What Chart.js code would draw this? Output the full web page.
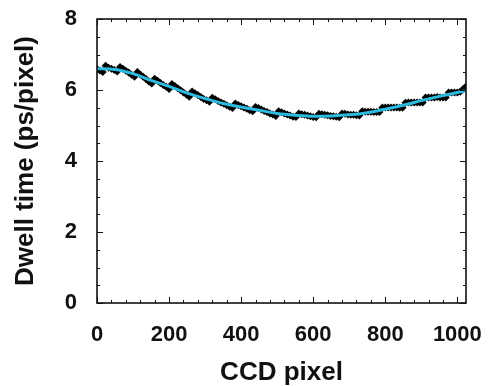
<!DOCTYPE html>
<html>
<head>
<meta charset="utf-8">
<script src="https://cdn.jsdelivr.net/npm/chart.js@4.4.0/dist/chart.umd.min.js"></script>
<style>
  html, body { margin: 0; padding: 0; background: #fff; }
  canvas { display: block; }
</style>
</head>
<body>
<canvas id="dwell" width="489" height="386"></canvas>
<script>
// measured points (CCD pixel, dwell time ps/pixel)
const pixelX = [
  0, 8, 16, 24, 32, 40, 48, 56,
  64, 72, 80, 88, 96, 104, 112, 120,
  128, 136, 144, 152, 160, 168, 176, 184,
  192, 200, 208, 216, 224, 232, 240, 248,
  256, 264, 272, 280, 288, 296, 304, 312,
  320, 328, 336, 344, 352, 360, 368, 376,
  384, 392, 400, 408, 416, 424, 432, 440,
  448, 456, 464, 472, 480, 488, 496, 504,
  512, 520, 528, 536, 544, 552, 560, 568,
  576, 584, 592, 600, 608, 616, 624, 632,
  640, 648, 656, 664, 672, 680, 688, 696,
  704, 712, 720, 728, 736, 744, 752, 760,
  768, 776, 784, 792, 800, 808, 816, 824,
  832, 840, 848, 856, 864, 872, 880, 888,
  896, 904, 912, 920, 928, 936, 944, 952,
  960, 968, 976, 984, 992, 1000, 1008, 1016,
  1024
]
const dwellTime = [
  6.59, 6.55, 6.51, 6.68, 6.63, 6.60, 6.56, 6.52,
  6.65, 6.60, 6.54, 6.49, 6.43, 6.37, 6.51, 6.44,
  6.37, 6.31, 6.24, 6.18, 6.32, 6.26, 6.20, 6.14,
  6.09, 6.03, 6.17, 6.11, 6.05, 5.99, 5.93, 5.87,
  5.81, 5.96, 5.91, 5.86, 5.80, 5.75, 5.71, 5.67,
  5.78, 5.74, 5.69, 5.65, 5.61, 5.57, 5.53, 5.49,
  5.62, 5.58, 5.54, 5.51, 5.47, 5.43, 5.40, 5.52,
  5.49, 5.45, 5.41, 5.38, 5.34, 5.31, 5.27, 5.40,
  5.37, 5.34, 5.31, 5.28, 5.25, 5.24, 5.34, 5.32,
  5.30, 5.28, 5.26, 5.24, 5.23, 5.33, 5.32, 5.30,
  5.29, 5.27, 5.26, 5.25, 5.23, 5.34, 5.33, 5.31,
  5.30, 5.30, 5.29, 5.28, 5.40, 5.39, 5.39, 5.39,
  5.38, 5.38, 5.38, 5.51, 5.51, 5.51, 5.51, 5.51,
  5.51, 5.50, 5.50, 5.64, 5.65, 5.65, 5.65, 5.65,
  5.65, 5.65, 5.79, 5.79, 5.79, 5.79, 5.80, 5.79,
  5.79, 5.79, 5.93, 5.93, 5.93, 5.93, 5.95, 6.03,
  6.10
]

// smooth fit (cyan)
const fitX = [0, 50, 100, 150, 200, 250, 300, 350, 400, 450, 500, 550, 600, 650, 700, 750, 800, 850, 900, 950, 1000, 1024]
const fitY = [6.60, 6.58, 6.46, 6.27, 6.10, 5.91, 5.76, 5.62, 5.52, 5.43, 5.34, 5.29, 5.26, 5.27, 5.30, 5.36, 5.46, 5.57, 5.70, 5.82, 5.93, 5.98]

const xTicks = [0, 200, 400, 600, 800, 1000]
const yTicks = [0, 2, 4, 6, 8]

const fontFamily = "'Liberation Sans', Arial, Helvetica, sans-serif"

// inward ticks on all four sides + box
const frameTicks = {
  id: 'frameTicks',
  afterDatasetsDraw(chart) {
    const ctx = chart.ctx
    const a = chart.chartArea
    const xs = chart.scales.x
    const ys = chart.scales.y
    ctx.save()
    ctx.strokeStyle = '#111'
    ctx.lineWidth = 1
    ctx.beginPath()
    for (let v = 0; v <= 1024; v += 40) {
      let px = Math.round(xs.getPixelForValue(v)) + 0.5
      let len = xTicks.includes(v) ? 6 : 3
      ctx.moveTo(px, a.bottom); ctx.lineTo(px, a.bottom - len)
      ctx.moveTo(px, a.top); ctx.lineTo(px, a.top + len)
    }
    for (let v = 0; v <= 8; v += 0.5) {
      let py = Math.round(ys.getPixelForValue(v)) + 0.5
      let len = yTicks.includes(v) ? 6 : 3
      ctx.moveTo(a.left, py); ctx.lineTo(a.left + len, py)
      ctx.moveTo(a.right, py); ctx.lineTo(a.right - len, py)
    }
    ctx.stroke()
    ctx.lineWidth = 1.6
    ctx.strokeRect(a.left, a.top, a.right - a.left, a.bottom - a.top)
    ctx.restore()
  }
}

let points = pixelX.map((px, i) => ({x: px, y: dwellTime[i]}))
let fit = fitX.map((px, i) => ({x: px, y: fitY[i]}))

new Chart(document.getElementById('dwell').getContext('2d'), {
  type: 'scatter',
  data: {
    datasets: [
      {
        label: 'fit',
        data: fit,
        showLine: true,
        borderColor: 'rgb(44,186,222)',
        borderWidth: 3,
        pointRadius: 0,
        cubicInterpolationMode: 'monotone',
        order: 0
      },
      {
        label: 'measured',
        data: points,
        pointStyle: 'rectRot',
        pointRadius: 4,
        backgroundColor: '#000',
        borderColor: '#000',
        borderWidth: 0,
        order: 1
      }
    ]
  },
  options: {
    responsive: false,
    animation: false,
    events: [],
    layout: { padding: { top: 19, right: 23, left: 0, bottom: 0 } },
    plugins: { legend: { display: false }, tooltip: { enabled: false } },
    scales: {
      x: {
        type: 'linear',
        min: 0,
        max: 1024,
        grid: { display: false },
        border: { display: false },
        afterBuildTicks: s => { s.ticks = xTicks.map(v => ({value: v})) },
        afterFit: s => { s.height = 83; s.paddingLeft = 0; s.paddingRight = 0 },
        ticks: {
          padding: 11,
          color: '#111',
          maxRotation: 0,
          callback: v => String(v),
          font: { family: fontFamily, size: 22, weight: 'bold' }
        },
        title: {
          display: true,
          text: 'CCD pixel',
          color: '#111',
          padding: { top: 0, bottom: -2 },
          font: { family: fontFamily, size: 26, weight: 'bold' }
        }
      },
      y: {
        type: 'linear',
        min: 0,
        max: 8,
        grid: { display: false },
        border: { display: false },
        afterBuildTicks: s => { s.ticks = yTicks.map(v => ({value: v})) },
        afterFit: s => { s.width = 97; s.paddingTop = 0; s.paddingBottom = 0 },
        ticks: {
          padding: 12,
          color: '#111',
          callback: v => String(v),
          font: { family: fontFamily, size: 22, weight: 'bold' }
        },
        title: {
          display: true,
          text: 'Dwell time (ps/pixel)',
          color: '#111',
          padding: { top: 10, bottom: 0 },
          font: { family: fontFamily, size: 26, weight: 'bold' }
        }
      }
    }
  },
  plugins: [frameTicks]
})
</script>
</body>
</html>
